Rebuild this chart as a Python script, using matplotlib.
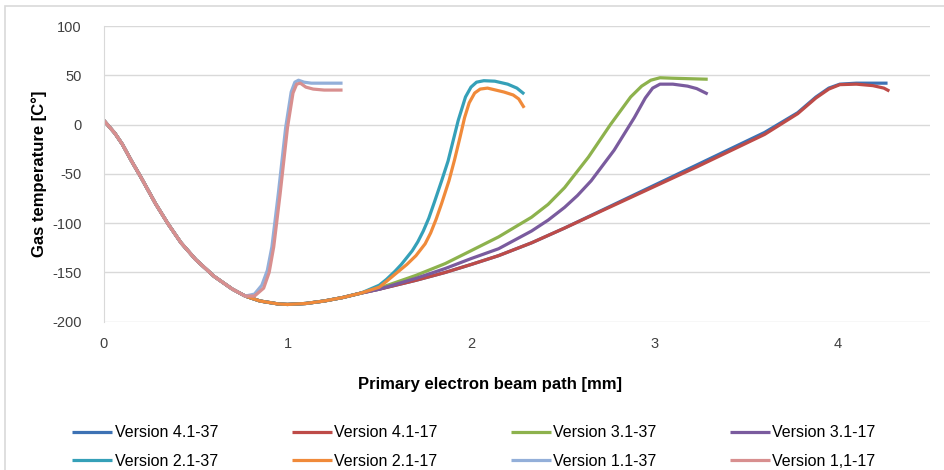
import numpy as np
import matplotlib

matplotlib.use("Agg")
import matplotlib.pyplot as plt  # noqa: E402
from matplotlib.patches import Rectangle  # noqa: E402

plt.rcParams["font.family"] = ["Liberation Sans", "DejaVu Sans"]
plt.rcParams["axes.unicode_minus"] = False

# shared cooling section, 0 .. 0.77 mm
x_common = [0.0, 0.06, 0.10, 0.15, 0.20, 0.28, 0.35, 0.42, 0.50, 0.60, 0.70, 0.77]
t_common = [4, -9, -20, -37, -53, -80, -101, -120, -137, -154, -167, -174]

# continued section for the longer versions, 0.85 .. 1.4 mm
x_mid = [0.85, 0.95, 1.0, 1.1, 1.2, 1.3, 1.4]
t_mid = [-179, -182, -182.5, -181.5, -179, -175.5, -171]

x_v11_37 = [0.82, 0.86, 0.89, 0.915, 0.95, 0.99, 1.02, 1.04, 1.06, 1.09, 1.13, 1.2, 1.3]
t_v11_37 = [-172, -163, -148, -124, -70, -3, 33, 43, 45, 43, 42, 42, 42]
x_v11_17 = [0.82, 0.87, 0.90, 0.925, 0.96, 1.0, 1.03, 1.05, 1.07, 1.10, 1.14, 1.2, 1.3]
t_v11_17 = [-174, -166, -150, -124, -70, -3, 32, 41, 42, 38, 36, 35, 35]

x_v21_37 = [1.45, 1.5, 1.54, 1.585, 1.62, 1.65, 1.68, 1.71, 1.74, 1.77, 1.80, 1.84, 1.875, 1.93,
            1.97, 2.0, 2.03, 2.07, 2.13, 2.2, 2.25, 2.29]
t_v21_37 = [-167, -163, -157, -149, -142, -135, -128, -119, -108, -95, -79, -57, -37, 4,
            28, 38, 43, 44.5, 44, 41, 37, 31]
x_v21_17 = [1.45, 1.5, 1.54, 1.585, 1.65, 1.70, 1.75, 1.78, 1.81, 1.84, 1.88, 1.91, 1.94, 1.965,
            1.99, 2.02, 2.05, 2.09, 2.18, 2.23, 2.26, 2.29]
t_v21_17 = [-168, -165, -159, -152, -142, -133, -121, -110, -96, -80, -57, -36, -13, 7,
            22, 32, 36, 37, 33, 30, 26, 17]

x_v31_37 = [1.5, 1.7, 1.86, 2.0, 2.15, 2.33, 2.42, 2.51, 2.64, 2.76, 2.87, 2.93, 2.98, 3.03, 3.1, 3.29]
t_v31_37 = [-166, -153, -141, -128, -114, -94, -81, -64, -33, 0, 28, 39, 45, 47.5, 47, 46]
x_v31_17 = [1.5, 1.7, 1.86, 2.0, 2.15, 2.33, 2.42, 2.51, 2.58, 2.655, 2.78, 2.89, 2.95, 2.99, 3.03,
            3.1, 3.18, 3.23, 3.29]
t_v31_17 = [-167, -156, -146, -136, -126, -108, -97, -84, -72, -57, -26, 7, 27, 37, 41,
            41, 39, 36.5, 31]

x_v41_37 = [1.5, 1.7, 1.86, 2.0, 2.15, 2.33, 2.51, 2.87, 3.23, 3.6, 3.78, 3.88, 3.95, 4.01, 4.1, 4.19, 4.27]
t_v41_37 = [-167, -158, -150, -142, -133, -120, -105, -73, -41, -8, 12, 28, 37, 41, 42, 42, 42]
x_v41_17 = [1.5, 1.7, 1.86, 2.0, 2.15, 2.33, 2.51, 2.87, 3.23, 3.6, 3.78, 3.88, 3.95, 4.01, 4.1, 4.19, 4.25, 4.28]
t_v41_17 = [-167, -158, -150, -142, -133, -120, -105, -74, -43, -10, 11, 27, 36, 40.5, 41, 39.5, 37, 34]

labels = ["Version 4.1-37", "Version 4.1-17", "Version 3.1-37", "Version 3.1-17",
          "Version 2.1-37", "Version 2.1-17", "Version 1.1-37", "Version 1,1-17"]
colors = ["#3d72b4", "#be4b48", "#8db24d", "#7a5b9e",
          "#35a0b8", "#f08a3a", "#93afd9", "#d88f8f"]


def full_curve(xs, ts, long=True):
    if long:
        return x_common + x_mid + xs, t_common + t_mid + ts
    return x_common + xs, t_common + ts


series = [
    full_curve(x_v41_37, t_v41_37),
    full_curve(x_v41_17, t_v41_17),
    full_curve(x_v31_37, t_v31_37),
    full_curve(x_v31_17, t_v31_17),
    full_curve(x_v21_37, t_v21_37),
    full_curve(x_v21_17, t_v21_17),
    full_curve(x_v11_37, t_v11_37, long=False),
    full_curve(x_v11_17, t_v11_17, long=False),
]

fig = plt.figure(figsize=(9.44, 4.70), dpi=100)
ax = fig.add_axes([104 / 944, 1 - 321.7 / 470, 825.75 / 944, 295.7 / 470])

lines = []
for (xs, ts), lab, col in zip(series, labels, colors):
    ln, = ax.plot(xs, ts, color=col, linewidth=2.3, label=lab,
                  solid_joinstyle="round", solid_capstyle="butt")
    lines.append(ln)

ax.set_xlim(0, 4.5)
ax.set_ylim(-200, 100)
ax.set_xticks([0, 1, 2, 3, 4])
ax.set_yticks(np.arange(-200, 101, 50))
ax.grid(axis="y", color="#d9d9d9", linewidth=1.0)
ax.set_axisbelow(True)
for side in ("top", "right", "bottom"):
    ax.spines[side].set_visible(False)
ax.spines["left"].set_color("#d9d9d9")
ax.tick_params(axis="both", length=0, labelsize=10.5, colors="#404040")
ax.tick_params(axis="y", pad=16)
ax.tick_params(axis="x", pad=11)

ax.set_xlabel("Primary electron beam path [mm]", fontsize=12, fontweight="bold")
ax.xaxis.set_label_coords((490 - 104) / 825.75, (321.7 - 377) / 295.7)
ax.set_ylabel("Gas temperature [C°]", fontsize=12, fontweight="bold")
ax.yaxis.set_label_coords((47 - 104) / 825.75, 0.5)

# legend filled row by row: 4 per row
order = [0, 4, 1, 5, 2, 6, 3, 7]
fig.legend(
    [lines[i] for i in order],
    [labels[i] for i in order],
    loc="upper left",
    bbox_to_anchor=(58 / 944, 0, 832 / 944, 59 / 470),
    mode="expand",
    ncol=4,
    frameon=False,
    fontsize=11.5,
    handlelength=2.5,
    handletextpad=0.15,
    labelspacing=0.85,
)

# chart frame (top and left edges only show)
fig.add_artist(Rectangle((5 / 944, -0.1), 1.2, 1.1 - 6 / 470, transform=fig.transFigure,
                         facecolor="none", edgecolor="#d9d9d9", linewidth=1.2))

fig.savefig("out.png", dpi=100)
plt.close(fig)
